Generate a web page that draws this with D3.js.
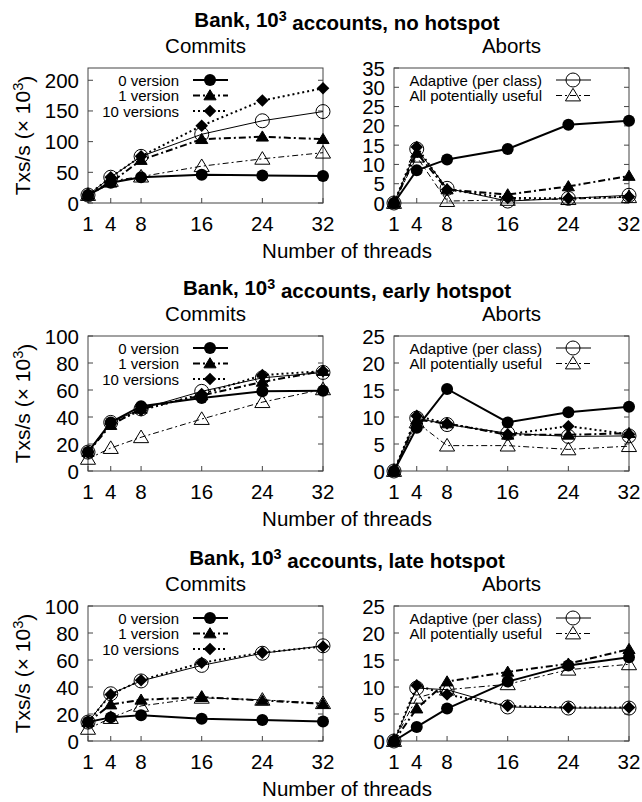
<!DOCTYPE html>
<html>
<head>
<meta charset="utf-8">
<script src="https://cdn.jsdelivr.net/npm/d3@7"></script>
<style>
  body { margin: 0; background: #fff; }
  svg { font-family: "Liberation Sans", Arial, sans-serif; }
</style>
</head>
<body>
<div id="chart"></div>
<script>
// thread counts on the x axis
const threads = [1, 4, 8, 16, 24, 32];
const seriesNames = ["0 version", "1 version", "10 versions", "Adaptive (per class)", "All potentially useful"];
const scenarios = ["no hotspot", "early hotspot", "late hotspot"];

// commits (x 10^3 txs/s), one row per series, in seriesNames order
const noHotspotCommits = [
  [13, 33, 42, 46, 45, 44],
  [13, 33, 70, 104, 108, 104],
  [13, 42, 76, 126, 167, 187],
  [13, 42, 76, 112, 134, 149],
  [13, 36, 43, 60, 72, 82]
];
const earlyHotspotCommits = [
  [14, 36, 48, 54, 59, 59.5],
  [14, 34, 46, 56, 66, 74],
  [14, 35, 45, 57, 71, 74],
  [14, 36, 46, 59, 69, 73],
  [9, 17, 25, 38.5, 51, 60.5]
];
const lateHotspotCommits = [
  [14, 17.5, 19, 16.5, 15.5, 14.5],
  [14, 27, 30.5, 32.5, 30, 27.5],
  [14, 34.5, 45, 58, 65.5, 70],
  [14, 35, 44.5, 56, 65, 70.5],
  [9, 17, 26, 32, 30.5, 28]
];

// aborts (x 10^3 txs/s)
const noHotspotAborts = [
  [0, 8.5, 11.3, 14, 20.3, 21.3],
  [0, 13, 3.5, 2.2, 4.3, 7],
  [0, 14.5, 3.5, 1.3, 1.2, 1.6],
  [0, 14, 3.8, 0.5, 1.2, 2],
  [0, 12, 0.5, 0.8, 1, 1.5]
];
const earlyHotspotAborts = [
  [0, 8, 15.2, 9, 10.9, 11.9],
  [0, 9.5, 8.8, 6.7, 6.7, 7],
  [0, 10.2, 8.8, 6.8, 8.3, 6.8],
  [0, 9.8, 8.6, 7, 6.4, 6.5],
  [0, 9, 4.7, 4.7, 4, 4.6]
];
const lateHotspotAborts = [
  [0, 2.6, 6, 11, 14, 15.5],
  [0, 6, 11, 12.8, 14.3, 17],
  [0, 10.3, 8.6, 6.5, 6.2, 6.2],
  [0, 9.8, 9.5, 6.3, 6.1, 6.1],
  [0, 8, 9.5, 10.5, 13.2, 14.2]
];

// y axis ranges and ticks
const commitsMax = [220, 100, 100];
const commitsTicks = [[0, 50, 100, 150, 200], [0, 20, 40, 60, 80, 100], [0, 20, 40, 60, 80, 100]];
const abortsMax = [35, 25, 25];
const abortsTicks = [[0, 5, 10, 15, 20, 25, 30, 35], [0, 5, 10, 15, 20, 25], [0, 5, 10, 15, 20, 25]];

const commitsData = [noHotspotCommits, earlyHotspotCommits, lateHotspotCommits];
const abortsData = [noHotspotAborts, earlyHotspotAborts, lateHotspotAborts];

const W = 642, H = 802;
const rowTop = [68, 336, 606];
const plotH = 135, plotW = 235;
const leftX = [88, 394];

const styles = [
  {width: 2, dash: null, marker: "fcircle"},
  {width: 2, dash: "7,3,2,3", marker: "ftri"},
  {width: 2, dash: "2,3", marker: "fdiamond"},
  {width: 1, dash: null, marker: "ocircle"},
  {width: 1, dash: "6,3,2,3", marker: "otri"}
];

const svg = d3.select("#chart").append("svg").attr("width", W).attr("height", H);

function txt(g, x, y, s, o = {}) {
  const t = g.append("text")
    .attr("transform", `translate(${x},${y}) rotate(${o.rotate || 0}) scale(${o.sx || 1},1)`)
    .attr("text-anchor", o.anchor || "middle")
    .style("font-size", (o.size || 20.5) + "px")
    .style("font-weight", o.weight || "normal")
    .attr("fill", "#000");
  if (s) t.text(s);
  return t;
}

function supText(t, before, sup, after) {
  t.append("tspan").text(before);
  t.append("tspan").attr("dy", "-0.45em").style("font-size", "0.7em").text(sup);
  t.append("tspan").attr("dy", "0.45em").text(after);
}

function marker(g, kind, x, y) {
  if (kind === "fcircle") {
    g.append("circle").attr("cx", x).attr("cy", y).attr("r", 6).attr("fill", "#000");
  } else if (kind === "ocircle") {
    g.append("circle").attr("cx", x).attr("cy", y).attr("r", 7).attr("fill", "none").attr("stroke", "#000").attr("stroke-width", 1);
  } else if (kind === "ftri" || kind === "otri") {
    const s = kind === "ftri" ? 5.8 : 7.2;
    const p = `M${x},${y - s}L${x + s * 1.05},${y + s * 0.75}L${x - s * 1.05},${y + s * 0.75}Z`;
    g.append("path").attr("d", p)
      .attr("fill", kind === "ftri" ? "#000" : "none")
      .attr("stroke", "#000").attr("stroke-width", 1);
  } else if (kind === "fdiamond") {
    const s = 6.3;
    g.append("path").attr("d", `M${x},${y - s}L${x + s},${y}L${x},${y + s}L${x - s},${y}Z`).attr("fill", "#000");
  }
}

function panel(row, col, data, yMax, yTicks) {
  const L = leftX[col], T = rowTop[row];
  const g = svg.append("g");
  const x = d3.scaleLinear().domain([1, 32]).range([L, L + plotW]);
  const y = d3.scaleLinear().domain([0, yMax]).range([T + plotH, T]);

  // ticks on left, right and bottom, pointing inward
  yTicks.forEach(v => {
    g.append("line").attr("x1", L).attr("x2", L + 5).attr("y1", y(v)).attr("y2", y(v)).attr("stroke", "#444");
    g.append("line").attr("x1", L + plotW - 5).attr("x2", L + plotW).attr("y1", y(v)).attr("y2", y(v)).attr("stroke", "#444");
    txt(g, L - 9, y(v) + 7.5, String(v), {anchor: "end"});
  });
  threads.forEach(v => {
    g.append("line").attr("x1", x(v)).attr("x2", x(v)).attr("y1", T + plotH).attr("y2", T + plotH - 5).attr("stroke", "#444");
    txt(g, x(v), T + plotH + 28, String(v));
  });
  g.append("rect").attr("x", L).attr("y", T).attr("width", plotW).attr("height", plotH)
    .attr("fill", "none").attr("stroke", "#444").attr("stroke-width", 1);

  const line = d3.line().x((d, i) => x(threads[i])).y(d => y(d));
  data.forEach((vals, si) => {
    const st = styles[si];
    g.append("path").attr("d", line(vals)).attr("fill", "none").attr("stroke", "#000")
      .attr("stroke-width", st.width).attr("stroke-dasharray", st.dash);
    vals.forEach((v, i) => marker(g, st.marker, x(threads[i]), y(v)));
  });

  // legend: commits shows the three version series, aborts the other two
  const idx = col === 0 ? [0, 1, 2] : [3, 4];
  const textEnd = col === 0 ? 91 : 148;
  idx.forEach((si, k) => {
    const ly = T + 12 + k * 15.5;
    const st = styles[si];
    txt(g, L + textEnd, ly + 5.5, seriesNames[si], {anchor: "end", size: 15});
    g.append("line").attr("x1", L + textEnd + 14).attr("x2", L + textEnd + 49).attr("y1", ly).attr("y2", ly)
      .attr("stroke", "#000").attr("stroke-width", st.width).attr("stroke-dasharray", st.dash);
    marker(g, st.marker, L + textEnd + 31, ly);
  });

  txt(g, L + plotW / 2, T - 15, col === 0 ? "Commits" : "Aborts");
}

scenarios.forEach((sc, r) => {
  const T = rowTop[r];
  const title = txt(svg, 347, T - 41, null, {size: 20.5, weight: "bold"});
  supText(title, "Bank, 10", "3", " accounts, " + sc);
  panel(r, 0, commitsData[r], commitsMax[r], commitsTicks[r]);
  panel(r, 1, abortsData[r], abortsMax[r], abortsTicks[r]);
  const yl = txt(svg, 30, T + plotH / 2, null, {rotate: -90, size: 21});
  supText(yl, "Txs/s (\u00d7 10", "3", ")");
  txt(svg, 347, T + 190, "Number of threads");
});
</script>
</body>
</html>
